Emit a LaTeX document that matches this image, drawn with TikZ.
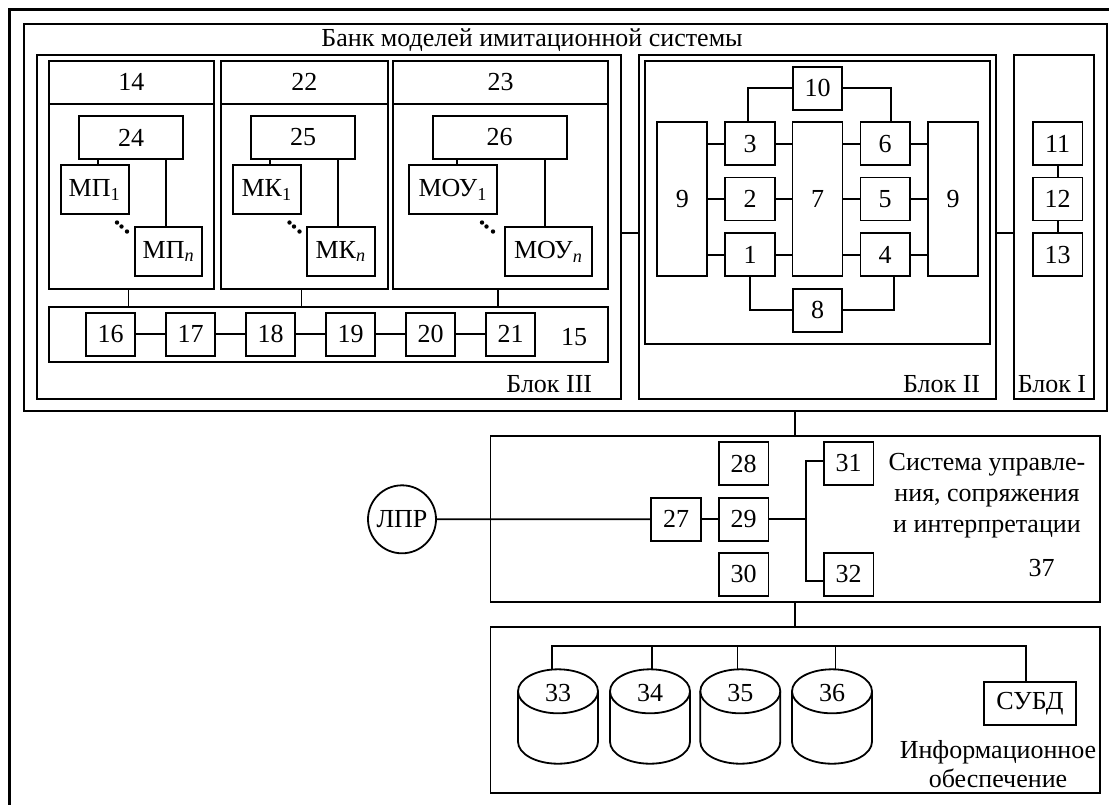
\documentclass[tikz,border=0pt]{standalone}
\usepackage{fontspec}
\setmainfont{Liberation Serif}
\usetikzlibrary{fit}

\begin{document}
\begin{tikzpicture}[x=0.5pt,y=-0.5pt,line width=0.9pt,
  every node/.style={font=\fontsize{13}{15}\selectfont},
  box/.style={draw,inner sep=0pt},
  sq/.style={box,minimum width=24.75pt,minimum height=21.5pt},
  tallbox/.style={box,minimum width=25pt,minimum height=77.15pt}]
  \useasboundingbox (0,0) rectangle (1109,805);

  % outer frame (cut by the page)
  \draw[line width=1.5pt] (1109,9) -- (9,9) -- (9,805);

  % model bank
  \node[box,fit={(24,24) (1106.7,411.3)}] (bank) {};
  \node[anchor=base west,inner sep=0pt] (title) at (320.5,46.7) {Банк моделей имитационной системы};

  % block III
  \node[box,fit={(36.7,55) (621,399.3)}] (blk3) {};
  \node[anchor=base east,inner sep=0pt] (lbl3) at (593,392.5) {Блок III};

  \node[box,fit={(48.7,61) (214,288.7)}] (b14) {};
  \node[box,fit={(48.7,61) (214,103.7)},label=center:14] (h14) {};
  \node[box,fit={(221,61) (387.7,288.7)}] (b22) {};
  \node[box,fit={(221,61) (387.7,103.7)},label=center:22] (h22) {};
  \node[box,fit={(392.7,61) (608.3,288.7)}] (b23) {};
  \node[box,fit={(392.7,61) (608.3,103.7)},label=center:23] (h23) {};

  \node[box,fit={(79.3,116.3) (182.7,158.7)},label=center:24] (g24) {};
  \node[box,fit={(251.3,116.3) (355,158.7)},label=center:25] (g25) {};
  \node[box,fit={(432.7,116.3) (566.7,158.7)},label=center:26] (g26) {};

  \node[box,fit={(60.7,165.3) (128.7,214.3)},label=center:{МП\textsubscript{1}}] (mp1) {};
  \node[box,fit={(135,227.3) (202.3,276)},label=center:{МП\textsubscript{\textit{n}}}] (mpn) {};
  \node[box,fit={(233,165.3) (300.7,214.3)},label=center:{МК\textsubscript{1}}] (mk1) {};
  \node[box,fit={(306.7,227.3) (375,276)},label=center:{МК\textsubscript{\textit{n}}}] (mkn) {};
  \node[box,fit={(409.3,165.3) (496.7,214.3)},label=center:{МОУ\textsubscript{1}}] (mou1) {};
  \node[box,fit={(504.7,227.3) (592.3,276)},label=center:{МОУ\textsubscript{\textit{n}}}] (moun) {};

  \draw ([xshift=1.5pt]mp1.north) -- ([xshift=1.5pt]mp1.north |- g24.south);
  \draw ([xshift=-1.5pt]mpn.north) -- ([xshift=-1.5pt]mpn.north |- g24.south);
  \draw ([xshift=1.5pt]mk1.north) -- ([xshift=1.5pt]mk1.north |- g25.south);
  \draw ([xshift=-1.5pt]mkn.north) -- ([xshift=-1.5pt]mkn.north |- g25.south);
  \draw ([xshift=1.8pt]mou1.north) -- ([xshift=1.8pt]mou1.north |- g26.south);
  \draw ([xshift=-1.8pt]moun.north) -- ([xshift=-1.8pt]moun.north |- g26.south);

  % dots between first and last model
  \foreach \p in {(117,222.5),(121.5,226.5),(127,231.5),
                  (289.5,222.5),(294,226.5),(299.5,231.5),
                  (482,222.5),(486.5,226.5),(493,231.5)}
    \fill \p circle[radius=1.1pt];

  % bus 15
  \node[box,fit={(48.7,307.3) (608.3,362.3)}] (b15) {};
  \node (t15) at (574,336.7) {15};
  \foreach \i in {16,...,21}
    \node[sq] (n\i) at ({110.5+80*(\i-16)},334.2) {\i};
  \foreach \i/\j in {16/17,17/18,18/19,19/20,20/21}
    \draw (n\i) -- (n\j);
  \foreach \bk in {b14,b22,b23}
    \draw ([xshift=-1.4pt]\bk.south) -- ([xshift=-1.4pt]\bk.south |- b15.north);

  % block II
  \node[box,fit={(639.3,55) (996,399.3)}] (blk2) {};
  \node[box,fit={(645,61) (990,344)}] (in2) {};
  \node[anchor=base east,inner sep=0pt] (lbl2) at (981,392.3) {Блок II};

  \node[tallbox] (n9l) at (682.3,199.2) {9};
  \node[tallbox] (n7) at (817.5,199.2) {7};
  \node[tallbox] (n9r) at (953.2,199.2) {9};
  \node[sq] (n3) at (750,143.7) {3};
  \node[sq] (n2) at (750,199) {2};
  \node[sq] (n1) at (750,254.7) {1};
  \node[sq] (n6) at (885.2,143.7) {6};
  \node[sq] (n5) at (885.2,199) {5};
  \node[sq] (n4) at (885.2,254.7) {4};
  \node[sq] (n10) at (817.5,88.3) {10};
  \node[sq] (n8) at (817.5,310.2) {8};

  \foreach \i in {3,2,1} {
    \draw (n\i.west) -- (n\i.west -| n9l.east);
    \draw (n\i.east) -- (n\i.east -| n7.west);
  }
  \foreach \i in {6,5,4} {
    \draw (n\i.west) -- (n\i.west -| n7.east);
    \draw (n\i.east) -- (n\i.east -| n9r.west);
  }
  \draw (n10.west) -| ([xshift=-1.15pt]n3.north);
  \draw (n10.east) -| ([xshift=3pt]n6.north);
  \draw (n1.south) |- (n8.west);
  \draw (n8.east) -| ([xshift=4.25pt]n4.south);

  % block I
  \node[box,fit={(1014.3,55) (1094.3,399.3)}] (blk1) {};
  \node[anchor=base east,inner sep=0pt] (lbl1) at (1087,392.3) {Блок I};
  \node[sq] (n11) at (1057.7,143.7) {11};
  \node[sq] (n12) at (1057.7,199) {12};
  \node[sq] (n13) at (1057.7,254.7) {13};
  \draw (n11) -- (n12) -- (n13);

  \draw ([yshift=-2.75pt]blk3.east) -- ([yshift=-2.75pt]blk3.east -| blk2.west);
  \draw ([yshift=-2.75pt]blk2.east) -- ([yshift=-2.75pt]blk2.east -| blk1.west);

  % control system 37
  \node[box,fit={(490.5,435.7) (1099.7,601.7)}] (sys) {};
  \draw (sys.north) -- (sys.north |- bank.south);
  \node[draw,circle,inner sep=0pt,minimum size=34pt] (lpr) at (402,519.3) {ЛПР};
  \node[sq] (n27) at (676,519.2) {27};
  \node[sq] (n28) at (743.7,463.5) {28};
  \node[sq] (n29) at (743.7,519.2) {29};
  \node[sq] (n30) at (743.7,574.3) {30};
  \node[sq] (n31) at (848.7,463.5) {31};
  \node[sq] (n32) at (848.7,574.3) {32};
  \node[align=center,font=\fontsize{13}{15.5}\selectfont] (systxt) at (987,496)
    {Система управле-\\ния, сопряжения\\и интерпретации};
  \node (t37) at (1041.6,568.3) {37};

  \draw (lpr.east) -- (n27.west);
  \draw (n27) -- (n29);
  \draw (n29.east) -- ++(36.5,0) coordinate (jn);
  \draw ([yshift=1.4pt]n31.west) -| (jn) |- ([yshift=-3.35pt]n32.west);

  % information support
  \node[box,fit={(490.5,627.3) (1099.7,793.3)}] (info) {};
  \draw (sys.south) -- (info.north);
  \node[box,fit={(984.2,682.3) (1075.7,725)},label=center:СУБД] (subd) {};
  \node[align=center,font=\fontsize{13}{14.2}\selectfont] (infotxt) at (998,764.2)
    {Информационное\\обеспечение};

  \foreach \n/\cx/\tx in {33/558/552.2,34/650/651.7,35/740.3/737.5,36/832/835.4} {
    \draw (\cx,691.3) ellipse[x radius=20pt,y radius=11pt];
    \draw (\cx-40,691.3) -- (\cx-40,741.7)
      arc[start angle=180,end angle=360,x radius=20pt,y radius=11pt] -- (\cx+40,691.3);
    \node (cyl\n) at (\cx,693) {\n};
    \coordinate (c\n) at (\tx,669.5);
  }
  \coordinate (bus) at (552.2,645.7);
  \draw (c33) -- (c33 |- bus) -| ([xshift=-1.8pt]subd.north);
  \foreach \n in {34,35,36}
    \draw (c\n) -- (c\n |- bus);
\end{tikzpicture}
\end{document}
